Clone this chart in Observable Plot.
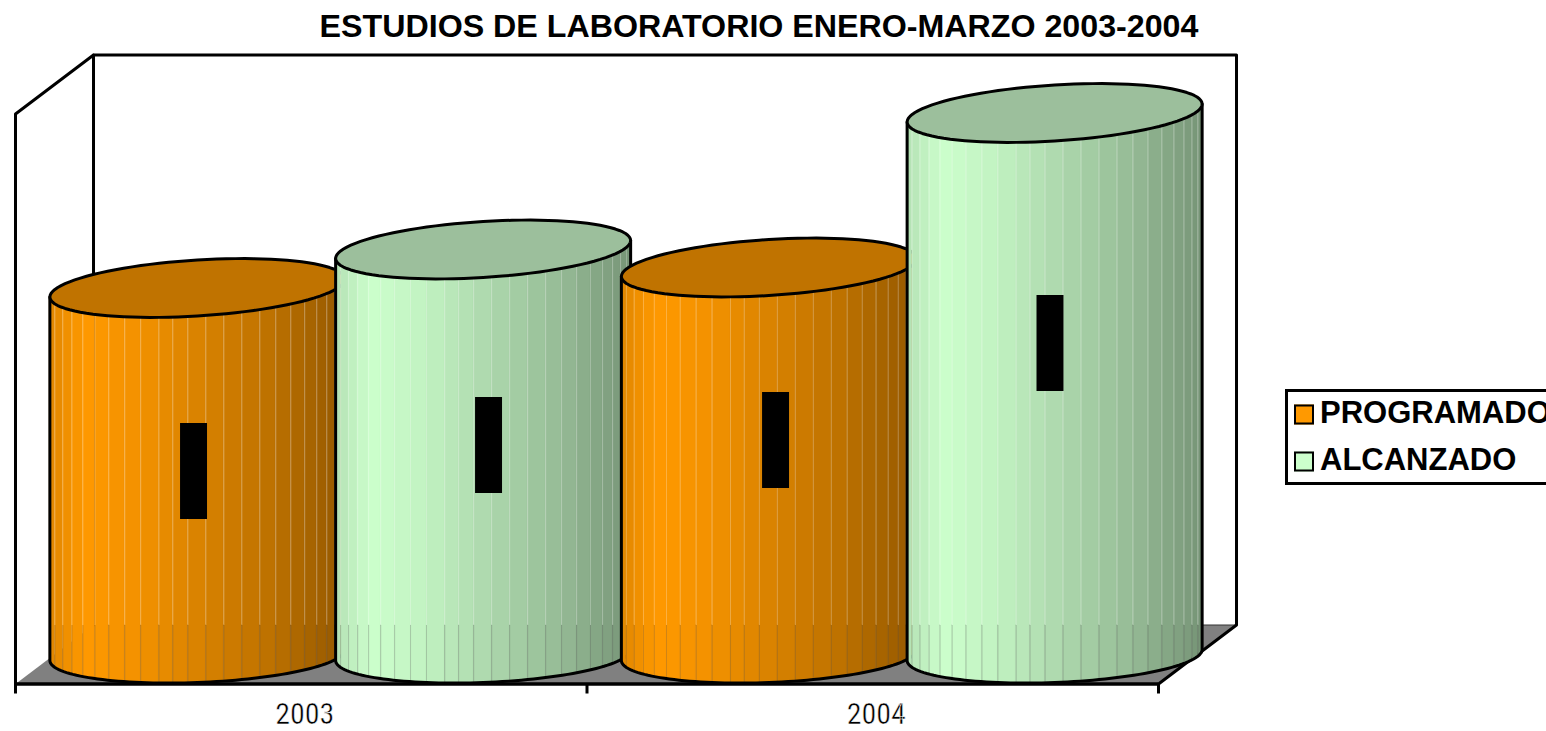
<!DOCTYPE html>
<html lang="es">
<head>
<meta charset="utf-8">
<title>Estudios de laboratorio</title>
<script src="https://cdn.jsdelivr.net/npm/d3@7"></script>
<script src="https://cdn.jsdelivr.net/npm/@observablehq/plot@0.6"></script>
<style>
  html, body { margin: 0; padding: 0; background: #fff; overflow: hidden; width: 1546px; height: 731px; }
  h1 { margin: 0; height: 45px; width: 1518px; text-align: center; font: bold 32.2px/53px "Liberation Sans", Arial, sans-serif; color: #000; white-space: nowrap; }
  #chart svg { display: block; }
  g[aria-label="x-axis tick label"] text { stroke: #fff; stroke-width: 0.5px; font-weight: 400; }
  #legend { position: absolute; left: 1285px; top: 388.5px; width: 400px; height: 90px; border: 3px solid #000; box-sizing: content-box; font: bold 31px "Liberation Sans", Arial, sans-serif; }
  .row { position: absolute; left: 6px; display: flex; align-items: center; height: 34px; white-space: nowrap; }
  .sw { width: 16px; height: 16px; border: 2.5px solid #000; margin-right: 6px; flex: none; transform: translateY(1.5px); }
</style>
</head>
<body>
<h1 id="title"></h1>
<div id="chart"></div>
<div id="legend"></div>
<script>
// ---- data ----
const chartTitle = "ESTUDIOS DE LABORATORIO ENERO-MARZO 2003-2004";
const years = ["2003", "2004"];
const seriesNames = ["PROGRAMADO", "ALCANZADO"];
const programado = [3650, 3855];
const alcanzado = [4035, 5400];
const seriesColors = ["#FF9900", "#CCFFCC"];
const topColors = ["#C07300", "#9CBF9C"];
// hidden (blacked-out) data labels: centre in chart units
const labelX = [0.3124, 0.8286, 1.3308, 1.811];
const labelY = [1815, 2075, 2125, 3095];

// ---- 3-D box geometry in chart units ----
const depthX = 0.1365, depthY = 590;
const floorFront = -310, wallTop = 5390;
const radiusX = 0.2581, ellipseB = 280, ellipseTilt = 90;
const baseCentre = -20, baseB = 275, baseTilt = 55;
const seamOffsets = [0, .017, .044, .075, .112, .153, .2, .254, .308, .37, .417, .468, .529, .59, .651, .712, .766, .817, .864, .905, .939, .966, .986, 1];
const shadeT = [0, .12, .3, .47, .75, 1];
const shadeV = [.88, 1, .95, .87, .74, .58];
const shade = d3.scaleLinear().domain(shadeT).range(shadeV);

const lower = (cx, x) => {
  const u = Math.max(-1, Math.min(1, (x - cx) / radiusX));
  return baseCentre + baseTilt * u - baseB * Math.sqrt(1 - u * u);
};
const midline = (cx, x) => ellipseTilt * (x - cx) / radiusX;
const ring = (cx, v, b, k, from, to, n) => d3.range(n + 1).map(i => {
  const a = from + (to - from) * i / n;
  return { x: cx + radiusX * Math.cos(a), y: v + k * Math.cos(a) - b * Math.sin(a) };
});

function cylinder(catIndex, seriesIndex, value) {
  const cx = catIndex + 0.25 + seriesIndex * 0.5 + depthX / 2;
  const left = cx - radiusX, w = radiusX * 2;
  const base = d3.rgb(seriesColors[seriesIndex]);
  const stripes = [];
  const seams = [];
  seamOffsets.slice(0, -1).forEach((t, i) => {
    const t2 = seamOffsets[i + 1], s = shade((t + t2) / 2);
    const color = d3.rgb(base.r * s, base.g * s, base.b * s).formatHex();
    const n = 3;
    for (let k = 0; k <= n; k++) {
      const x = left + (t + (t2 - t) * k / n) * w;
      stripes.push({ id: i, x, y1: lower(cx, x), y2: value + midline(cx, x), color });
    }
    if (i > 0) {
      const x = left + t * w;
      seams.push({ x, bottom: lower(cx, x), top: value + midline(cx, x) });
    }
  });
  const backFloor = floorFront + depthY;
  const outline = [
    { x: left, y: value - ellipseTilt },
    ...ring(cx, baseCentre, baseB, baseTilt, Math.PI, 0, 72),
    { x: left + w, y: value + ellipseTilt }
  ];
  const topFace = ring(cx, value, ellipseB, ellipseTilt, 0, 2 * Math.PI, 96);
  return [
    Plot.areaY(stripes, { x: "x", y1: "y1", y2: "y2", z: "id", fill: "color", stroke: "color", strokeWidth: 0.3 }),
    Plot.link(seams, { x1: "x", x2: "x", y1: "top", y2: backFloor, stroke: "#fff", strokeOpacity: 0.25, strokeWidth: 1 }),
    Plot.link(seams, { x1: "x", x2: "x", y1: backFloor, y2: "bottom", stroke: "#555", strokeOpacity: 0.25, strokeWidth: 1 }),
    Plot.line(outline, { x: "x", y: "y", stroke: "#000", strokeWidth: 3 }),
    Plot.line(topFace, { x: "x", y: "y", fill: topColors[seriesIndex], stroke: "#000", strokeWidth: 3 })
  ];
}

const x0 = 0, x1 = years.length;
const floorPts = [
  { x: x0, y: floorFront }, { x: x0 + depthX, y: floorFront + depthY },
  { x: x1 + depthX, y: floorFront + depthY }, { x: x1, y: floorFront }
];
const wallPts = [
  { x: x0, y: floorFront }, { x: x0, y: wallTop }, { x: x0 + depthX, y: wallTop + depthY },
  { x: x1 + depthX, y: wallTop + depthY }, { x: x1 + depthX, y: floorFront + depthY }, { x: x1, y: floorFront }
];
const backEdge = [{ x: x0 + depthX, y: floorFront + depthY }, { x: x0 + depthX, y: wallTop + depthY }];
const backFloorEdge = [{ x: x0 + depthX, y: floorFront + depthY }, { x: x1 + depthX, y: floorFront + depthY }];

const cylinders = [
  cylinder(0, 0, programado[0]),
  cylinder(0, 1, alcanzado[0]),
  cylinder(1, 0, programado[1]),
  cylinder(1, 1, alcanzado[1])
];
const labelData = labelX.map((x, i) => ({ x, y: labelY[i] }));

document.getElementById("title").textContent = chartTitle;

const plot = Plot.plot({
  width: 1546,
  height: 686,
  marginLeft: 15,
  marginRight: 388,
  marginTop: 9.5,
  marginBottom: 47.5,
  style: { background: "transparent", overflow: "visible" },
  x: { domain: [x0, x1], axis: null },
  y: { domain: [floorFront, wallTop + depthY], axis: null },
  marks: [
    Plot.line(floorPts, { x: "x", y: "y", fill: "#808080", stroke: "none" }),
    Plot.line(backEdge, { x: "x", y: "y", stroke: "#000", strokeWidth: 3 }),
    Plot.line(backFloorEdge, { x: "x", y: "y", stroke: "#333", strokeWidth: 1 }),
    Plot.line(wallPts, { x: "x", y: "y", stroke: "#000", strokeWidth: 3 }),
    ...cylinders.flat(),
    Plot.rect(labelData, {
      x1: d => d.x - 0.0236, x2: d => d.x + 0.0236,
      y1: d => d.y - 480, y2: d => d.y + 480, fill: "#000"
    }),
    Plot.ruleY([floorFront], { x1: x0, x2: x1, stroke: "#000", strokeWidth: 3.5 }),
    Plot.axisX({
      anchor: "bottom", ticks: d3.range(x0, x1 + 1), tickSize: 10, strokeWidth: 3,
      stroke: "#000", tickFormat: () => "", label: null
    }),
    Plot.axisX({
      anchor: "bottom", ticks: years.map((_, i) => i + 0.5), tickSize: 0, tickPadding: 19, dx: 3.5,
      tickFormat: d => years[Math.floor(d)], label: null, fill: "#000",
      fontSize: 30, fontFamily: "'Liberation Sans Narrow','Roboto Condensed','DejaVu Sans Condensed',sans-serif"
    })
  ]
});
document.getElementById("chart").append(plot);

const legend = document.getElementById("legend");
seriesNames.forEach((name, i) => {
  const row = document.createElement("div");
  row.className = "row";
  row.style.top = (4.5 + i * 46.5) + "px";
  const sw = document.createElement("span");
  sw.className = "sw";
  sw.style.background = seriesColors[i];
  const label = document.createElement("span");
  label.textContent = name;
  row.append(sw, label);
  legend.append(row);
});
</script>
</body>
</html>
